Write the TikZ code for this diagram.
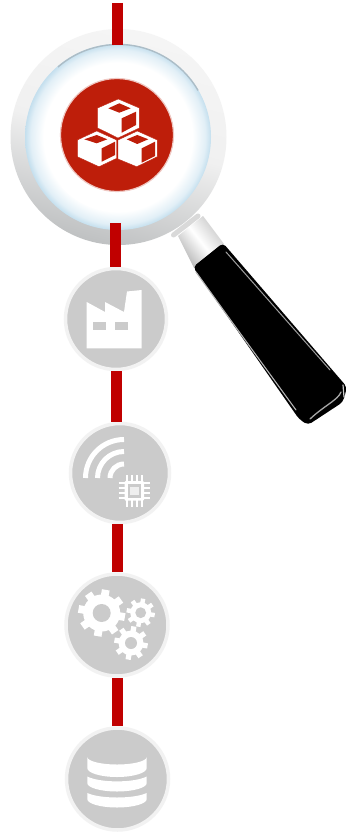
\documentclass[tikz,border=0pt]{standalone}
\usetikzlibrary{calc}
\definecolor{barred}{HTML}{C00000}
\definecolor{icongray}{HTML}{CBCBCB}
\definecolor{ringline}{HTML}{F2F2F2}
\definecolor{cubered}{HTML}{BE1E0A}
\definecolor{lensblue}{HTML}{C4DFEE}
\definecolor{ringdark}{HTML}{BFC1C2}
\definecolor{ringlight}{HTML}{F5F5F5}
\pgfdeclareradialshading{lensglass}{\pgfpoint{0bp}{0bp}}{
  color(0bp)=(white); color(20bp)=(white); color(23.5bp)=(lensblue!50!white);
  color(25bp)=(lensblue); color(50bp)=(lensblue)}
\tikzset{
  stage/.style={circle,draw=ringline,line width=3.5pt,fill=icongray,inner sep=0pt,minimum size=#1},
  linkbar/.style={draw=barred,line width=11pt},
  glyph/.style={fill=white,draw=none},
  hollow/.style={fill=icongray,draw=none},
  wave/.style={draw=white,line width=5pt},
  cubeface/.style={fill=white,draw=cubered,line width=.4pt,line join=round},
  cubeinset/.style={fill=cubered,draw=none},
  gleam/.style={draw=#1,line cap=round,line join=round}
}
\newcommand{\gearshape}[5]{% x y body-radius tooth-outer hole
  \fill[white] (#1,#2) circle[radius=#3];
  \foreach \a in {0,45,...,315}{
    \draw[white,line width=#3*0.42pt] ($(#1,#2)+(\a+10:#3*0.8)$) -- ($(#1,#2)+(\a+10:#4)$);
  }
  \fill[icongray] (#1,#2) circle[radius=#5];
}
\begin{document}
\begin{tikzpicture}[x=1pt,y=-1pt]
\useasboundingbox (0,0) rectangle (351,837);
\fill[white] (0,0) rectangle (351,837);

\coordinate (topend) at (117.5,3);
\coordinate (lensin) at (117.5,45);
\coordinate (lensout) at (115.5,223);

% handle: neck
\shade[top color=gray!45,bottom color=gray!60,middle color=white,shading angle=-52]
  (178,236) -- (203,216) -- (224,244) -- (194,268) -- cycle;
\draw[gray!30,line width=5pt,line cap=round] (173.5,235) -- (198,216);
% handle: grip
\path[fill=black,rounded corners=4pt]
  (193,267) -- (223,243) -- (347,387) -- (343,402) -- (308,425) -- (299,419) -- (230,320) -- cycle;
\draw[gleam=gray!75,line width=1pt] (226,252) -- (330,370);
\draw[gleam=gray!60,line width=1.1pt] (196,272) -- (232,322) -- (296,410);
\draw[gleam=gray!70,line width=1.3pt] (341,392) .. controls (338,400) and (325,405) .. (310,419);
\draw[gleam=white!60!gray,line width=1.2pt] (343,385) -- (344,397);

% lens ring and glass
\node[circle,minimum size=216pt,inner sep=0pt,draw=none,shade,
  top color=ringlight,bottom color=ringdark,middle color=ringlight!96!gray,shading angle=-15] (lens) at (118.5,137) {};
\shade[shading=lensglass] (118,137) circle[radius=93];
\draw[white,line width=4pt,line cap=round] (63,186) arc[start angle=138,end angle=62,radius=74];
\draw[lensblue!65!gray,line width=1.4pt] (58,67) arc[start angle=229,end angle=330,radius=92];

\draw[linkbar] (topend) -- (lensin);

% red medallion
\node[circle,fill=cubered,draw=cubered!25!white,line width=1.2pt,minimum size=113pt,inner sep=0pt] (focus) at (117,135) {};
% cubes
\fill[cubeface] (118.3,99) -- (139.3,108) -- (139.3,128) -- (118,138) -- (97.7,128) -- (97.7,108) -- cycle;
\fill[cubeinset] (119.3,103.3) -- (130.7,108.3) -- (119.3,112.7) -- (108.3,108.3) -- cycle;
\fill[cubeinset] (121.7,118.3) -- (136,111.7) -- (136,125) -- (121.7,132.7) -- cycle;
\fill[cubeface] (96.7,131) -- (116.7,140) -- (116.7,158.3) -- (99,166.7) -- (77.3,156.7) -- (77.3,140) -- cycle;
\fill[cubeface] (137.3,131) -- (157.3,140) -- (157.3,156.7) -- (136.7,166.7) -- (118,159) -- (118,140) -- cycle;
\fill[cubeinset] (96.7,135) -- (107.3,139.3) -- (96.7,143.3) -- (84.3,139.3) -- cycle;
\fill[cubeinset] (101.7,148.3) -- (115,141.7) -- (115,155) -- (101.7,161.7) -- cycle;
\fill[cubeinset] (137.3,135) -- (148.3,139.3) -- (137.3,144) -- (126.7,139.3) -- cycle;
\fill[cubeinset] (141.7,148.3) -- (155,141.7) -- (155,156) -- (141.7,162.7) -- cycle;

% grey stages
\node[stage=101pt] (factory) at (116,319) {};
\node[stage=99pt] (wireless) at (120,473) {};
\node[stage=102pt] (gears) at (117,625) {};
\node[stage=102pt] (storage) at (117.5,779) {};

% connectors
\draw[linkbar] (lensout) -- (lensout |- factory.north);
\draw[linkbar] (factory.south) -- (factory.south |- wireless.north);
\draw[linkbar] (gears.north |- wireless.south) -- (gears.north);
\draw[linkbar] (storage.north |- gears.south) -- (storage.north);

% factory icon
\fill[glyph] (86.7,302) -- (105,312) -- (105,302) -- (124,312) -- (127,291.5) -- (141.7,290) -- (141.7,348.3) -- (86.7,348.3) -- cycle;
\fill[hollow] (92.7,321.7) rectangle (106,330);
\fill[hollow] (115,321.7) rectangle (128.3,330);

% wireless icon
\draw[wave] (85.5,478) arc[start angle=180,end angle=270,radius=38.5];
\draw[wave] (97.5,478) arc[start angle=180,end angle=270,radius=26.5];
\draw[wave] (110,478) arc[start angle=180,end angle=270,radius=14];
\foreach \o in {-7.5,-2.5,2.5,7.5}{
  \draw[white,line width=2.2pt] (134.2+\o,475) -- (134.2+\o,506.5);
  \draw[white,line width=2.2pt] (118.5,490.7+\o) -- (150,490.7+\o);
}
\fill[glyph,rounded corners=1pt] (124.5,481) rectangle (144,500.5);
\fill[hollow] (127.5,484) rectangle (141,497.5);
\fill[white!70!icongray] (130,486.5) rectangle (138.5,495);

% gears
\gearshape{101.7}{613}{18.5}{23.5}{9}
\gearshape{140.7}{612.7}{10.5}{14.2}{5.4}
\gearshape{131}{643}{12.5}{16.8}{6}

% database
\fill[glyph] (87.3,757) arc[start angle=180,end angle=0,x radius=29.7,y radius=7.5]
  -- (146.7,768) arc[start angle=0,end angle=180,x radius=29.7,y radius=9] -- cycle;
\fill[glyph] (87.3,776.5) .. controls (100,783) and (134,783) .. (146.7,776.5)
  -- (146.7,783) arc[start angle=0,end angle=180,x radius=29.7,y radius=8.5] -- cycle;
\fill[glyph] (87.3,793) .. controls (100,799) and (134,799) .. (146.7,793)
  -- (146.7,799) arc[start angle=0,end angle=180,x radius=29.7,y radius=8.5] -- cycle;
\end{tikzpicture}
\end{document}
